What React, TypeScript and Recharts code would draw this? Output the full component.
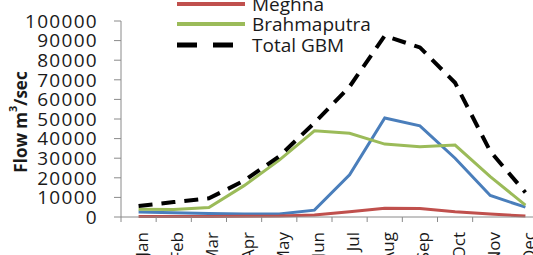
import { LineChart, Line, XAxis, YAxis } from 'recharts';

const months = ['Jan', 'Feb', 'Mar', 'Apr', 'May', 'Jun', 'Jul', 'Aug', 'Sep', 'Oct', 'Nov', 'Dec'];
const ganges = [2500, 2200, 1800, 1500, 1500, 3500, 21500, 50500, 46500, 30000, 11000, 5000];
const brahmaputra = [4000, 3800, 4800, 16000, 29000, 44000, 42700, 37200, 35900, 36700, 20600, 6100];
const meghna = [300, 300, 300, 400, 500, 1000, 2700, 4500, 4300, 2700, 1500, 500];
const totalGbm = [5600, 7600, 9500, 18500, 31000, 48000, 66500, 92500, 86500, 68500, 33500, 12500];
const yTicks = [0, 10000, 20000, 30000, 40000, 50000, 60000, 70000, 80000, 90000, 100000];

const data = months.map((month, i) => ({
  m: i + 1,
  month,
  ganges: ganges[i],
  brahmaputra: brahmaputra[i],
  meghna: meghna[i],
  total: totalGbm[i],
}));

const SERIES = [
  { key: 'ganges', label: 'Ganges', color: '#4a7ebb', width: 3, dash: undefined },
  { key: 'meghna', label: 'Meghna', color: '#c0504d', width: 3, dash: undefined },
  { key: 'brahmaputra', label: 'Brahmaputra', color: '#9bbb59', width: 3, dash: undefined },
  { key: 'total', label: 'Total GBM', color: '#000000', width: 4, dash: '14 9' },
];

const FONT = '"Open Sans", sans-serif';

function MonthTick({ x, y, payload }: { x?: number; y?: number; payload?: { value: number } }) {
  const label = months[(payload?.value ?? 1) - 1];
  const tx = (x ?? 0) + 3;
  const ty = (y ?? 0) + 6;
  return (
    <text
      x={tx}
      y={ty}
      transform={`rotate(-90 ${tx} ${ty})`}
      textAnchor="end"
      dominantBaseline="central"
      fontSize={17}
      fontFamily={FONT}
      fill="#1a1a1a"
    >
      {label}
    </text>
  );
}

function AxisTitle({ viewBox }: { viewBox?: { x: number; y: number; height: number } }) {
  if (!viewBox) return null;
  const cx = viewBox.x + 20;
  const cy = viewBox.y + viewBox.height / 2 + 3;
  return (
    <text
      x={cx}
      y={cy}
      transform={`rotate(-90 ${cx} ${cy})`}
      textAnchor="middle"
      dominantBaseline="central"
      fontSize={17}
      fontWeight={700}
      fontFamily={FONT}
      fill="#1a1a1a"
    >
      Flow m<tspan baselineShift="super" fontSize={11}>3</tspan>/sec
    </text>
  );
}

function LegendBox() {
  return (
    <div style={{ position: 'absolute', left: 177, top: -27, fontFamily: FONT, fontSize: 19, color: '#1a1a1a' }}>
      {SERIES.map((s) => (
        <div key={s.key} style={{ display: 'flex', alignItems: 'center', height: 20.5, lineHeight: '20.5px' }}>
          <svg width={68} height={8} style={{ marginRight: 7 }}>
            <line
              x1={0} y1={4} x2={68} y2={4}
              stroke={s.color}
              strokeWidth={s.dash ? 5 : 4}
              strokeDasharray={s.dash ? '20 16' : undefined}
            />
          </svg>
          <span>{s.label}</span>
        </div>
      ))}
    </div>
  );
}

export default function App() {
  return (
    <div style={{ position: 'fixed', left: 0, top: 0, width: 533, height: 255, overflow: 'hidden', background: '#fff' }}>
      <LineChart width={543} height={255} data={data} margin={{ top: 21, right: 0, bottom: 0, left: 0 }}>
        <XAxis
          xAxisId="grid"
          type="number"
          dataKey="m"
          domain={[0.5, 12.5]}
          ticks={[0.5, 1.5, 2.5, 3.5, 4.5, 5.5, 6.5, 7.5, 8.5, 9.5, 10.5, 11.5, 12.5]}
          tick={() => <g />}
          tickSize={5}
          height={1}
          stroke="#8a8a8a"
        />
        <XAxis
          xAxisId="lbl"
          type="number"
          dataKey="m"
          domain={[0.5, 12.5]}
          ticks={[1, 2, 3, 4, 5, 6, 7, 8, 9, 10, 11, 12]}
          axisLine={false}
          tickLine={false}
          tick={<MonthTick />}
          height={37}
        />
        <YAxis
          width={121}
          domain={[0, 100000]}
          ticks={yTicks}
          interval={0}
          tickSize={7}
          tickMargin={16}
          stroke="#8a8a8a"
          tick={{ fill: '#1a1a1a', fontSize: 19, fontFamily: FONT, letterSpacing: 1.3 }}
          label={{ content: <AxisTitle /> }}
        />
        {SERIES.map((s) => (
          <Line
            key={s.key}
            xAxisId="lbl"
            type="linear"
            dataKey={s.key}
            name={s.label}
            stroke={s.color}
            strokeWidth={s.width}
            strokeDasharray={s.dash}
            dot={false}
            isAnimationActive={false}
          />
        ))}
      </LineChart>
      <LegendBox />
    </div>
  );
}
